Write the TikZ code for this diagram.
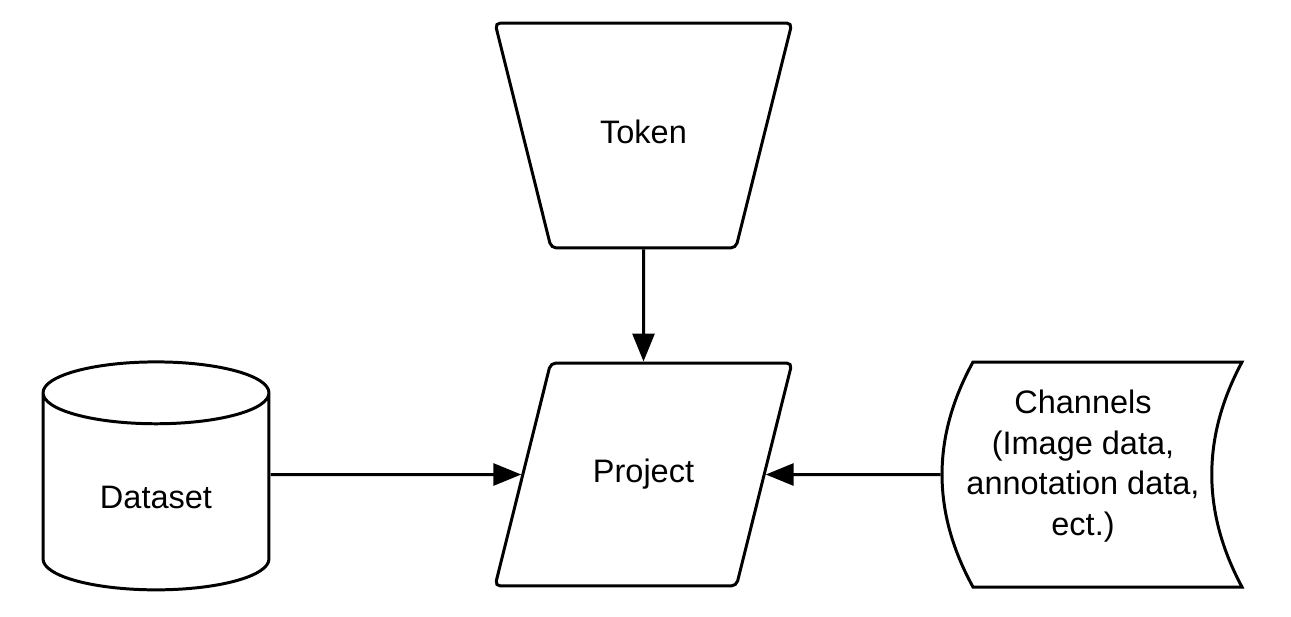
\documentclass[tikz,border=0pt]{standalone}
\usepackage{fontspec}
\setmainfont{Liberation Sans}
\usetikzlibrary{shapes.geometric}
\usetikzlibrary{arrows.meta}

\begin{document}
\begin{tikzpicture}[x=0.02cm, y=-0.02cm, line width=1.7pt,
        font=\fontsize{18.5pt}{23pt}\selectfont,
        slab/.style={trapezium, draw, trapezium stretches body, rounded corners=3pt, minimum width=5.94cm,
            text height=0.45cm, text depth=0.15cm, inner xsep=0pt},
        flow/.style={-{Triangle[length=0.56cm, width=0.44cm]}}]
        \useasboundingbox (0,0) rectangle (1291,616);
        \node [slab, trapezium left angle=76, trapezium right angle=76, shape border rotate=180, inner ysep=1.95cm] (token) at (643.5,135.5) {Token};
        \node [slab, trapezium left angle=76, trapezium right angle=104, inner ysep=1.93cm] (project) at (643.5,474.5) {Project};
        \node [cylinder, draw, shape border rotate=90, aspect=0.5, minimum width=4.52cm, minimum height=4.56cm] (dataset) at (156,497) {Dataset};
        \node [minimum width=6cm, minimum height=4.5cm, inner sep=0pt] (channels) at (1092,474.5) {};
        \draw (973,362) -- (1242,362) .. controls (1201.7,437) and (1201.7,512) .. (1242,587)
            -- (973,587) .. controls (931.7,512) and (931.7,437) .. (973,362) -- cycle;
        \node [align=center] (chanlabel) at (1083,466) {Channels\\(Image data,\\annotation data,\\ect.)};
        \draw [flow] (token) -- (project);
        \draw [flow] (dataset.east |- project) -- (project);
        \draw [flow] (channels) -- (project);
\end{tikzpicture}
\end{document}
